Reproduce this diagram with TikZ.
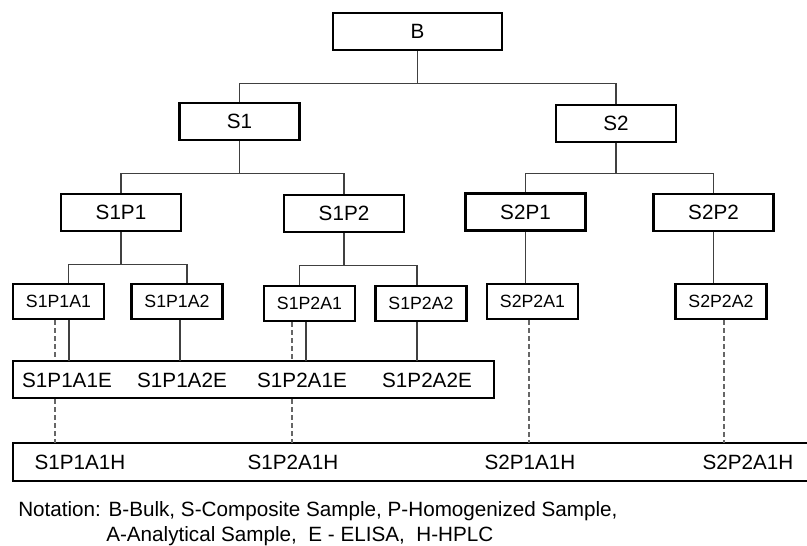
\documentclass[tikz,border=0pt]{standalone}
\usepackage{fontspec}
\setmainfont{Liberation Sans}
\begin{document}
\begin{tikzpicture}[x=0.75pt, y=-0.75pt,
    tbox/.style={draw, line width=1.8pt, fill=white, minimum width=90pt, minimum height=27.75pt, inner sep=0pt, font=\fontsize{15.5}{18}\selectfont},
    abox/.style={tbox, minimum width=68.25pt, minimum height=26.25pt, font=\fontsize{13.3}{16}\selectfont},
    lbl/.style={inner sep=0pt, font=\fontsize{15.5}{18}\selectfont},
    link/.style={black!75, line width=0.8pt},
    dline/.style={black!60, line width=0.8pt, dash pattern=on 3.5pt off 2.5pt}]
    \useasboundingbox (0,0) rectangle (807,546);

    \node[tbox, minimum width=126.75pt] at (417.5,31.5) (b) {B};
    \node[tbox] at (239.5,121.5) (s1)   {S1};
    \node[tbox] at (616,123.5)   (s2)   {S2};
    \node[tbox] at (121,212.5)   (s1p1) {S1P1};
    \node[tbox] at (344,213.5)   (s1p2) {S1P2};
    \node[tbox] at (525.5,212)   (s2p1) {S2P1};
    \node[tbox] at (713.5,212.5) (s2p2) {S2P2};

    \node[abox] at (58.5,301.5)  (s1p1a1) {S1P1A1};
    \node[abox] at (177,301.5)   (s1p1a2) {S1P1A2};
    \node[abox] at (309.5,303.5) (s1p2a1) {S1P2A1};
    \node[abox] at (421,303.5)   (s1p2a2) {S1P2A2};
    \node[abox] at (532.5,301.5) (s2p2a1) {S2P2A1};
    \node[abox] at (721,301.5)   (s2p2a2) {S2P2A2};

    % ELISA row
    \node[tbox, minimum width=360.75pt] at (253.5,379.5) (ebox) {};
    \node[lbl] at (67,380)  (s1p1a1e) {S1P1A1E};
    \node[lbl] at (182,380) (s1p1a2e) {S1P1A2E};
    \node[lbl] at (302,380) (s1p2a1e) {S1P2A1E};
    \node[lbl] at (427,380) (s1p2a2e) {S1P2A2E};

    % HPLC row
    \node[tbox, minimum width=599.25pt, minimum height=28.5pt] at (412.5,462) (hbox) {};
    \node[lbl] at (80,462)  (s1p1a1h) {S1P1A1H};
    \node[lbl] at (293,462) (s1p2a1h) {S1P2A1H};
    \node[lbl] at (530,462) (s2p1a1h) {S2P1A1H};
    \node[lbl] at (748,462) (s2p2a1h) {S2P2A1H};

    \node[lbl, anchor=west] at (18,511) (note1) {Notation: B-Bulk, S-Composite Sample, P-Homogenized Sample,};
    \node[lbl, anchor=west] at (106,536) (note2) {A-Analytical Sample,\ \ E - ELISA,\ \ H-HPLC};

    \draw[link] (b.south) -- ++(0,32) coordinate (bj);
    \draw[link] (s1.north) |- (bj) -| (s2.north);
    \draw[link] (s1.south) -- ++(0,32) coordinate (s1j);
    \draw[link] (s1p1.north) |- (s1j) -| (s1p2.north);
    \draw[link] (s2.south) -- ++(0,30) coordinate (s2j);
    \draw[link] (s2p1.north) |- (s2j) -| (s2p2.north);

    \draw[link] (s1p1.south) -- ++(0,32) coordinate (s1p1j);
    \draw[link] ([xshift=7.5pt]s1p1a1.north) |- (s1p1j) -| ([xshift=7.5pt]s1p1a2.north);
    \draw[link] (s1p2.south) -- ++(0,32) coordinate (s1p2j);
    \draw[link] ([xshift=-7.5pt]s1p2a1.north) |- (s1p2j) -| ([xshift=-3pt]s1p2a2.north);
    \draw[link] (s2p1.south) -- (s2p1.south |- s2p2a1.north);
    \draw[link] (s2p2.south) -- (s2p2.south |- s2p2a2.north);

    % A to E
    \coordinate (e1) at (69,361);
    \coordinate (e2) at (180,361);
    \coordinate (e3) at (306,361);
    \coordinate (e4) at (417,361);
    \draw[link] (e1 |- s1p1a1.south) -- (e1);
    \draw[link] (e2 |- s1p1a2.south) -- (e2);
    \draw[link] (e3 |- s1p2a1.south) -- (e3);
    \draw[link] (e4 |- s1p2a2.south) -- (e4);

    % A to H
    \coordinate (h1) at (55,443);
    \coordinate (h2) at (292,443);
    \coordinate (h3) at (529,443);
    \coordinate (h4) at (724,443);
    \draw[dline] (h1 |- s1p1a1.south) -- (h1 |- ebox.north);
    \draw[dline] (h1 |- ebox.south) -- (h1);
    \draw[dline] (h2 |- s1p2a1.south) -- (h2 |- ebox.north);
    \draw[dline] (h2 |- ebox.south) -- (h2);
    \draw[dline] (h3 |- s2p2a1.south) -- (h3);
    \draw[dline] (h4 |- s2p2a2.south) -- (h4);
\end{tikzpicture}
\end{document}
